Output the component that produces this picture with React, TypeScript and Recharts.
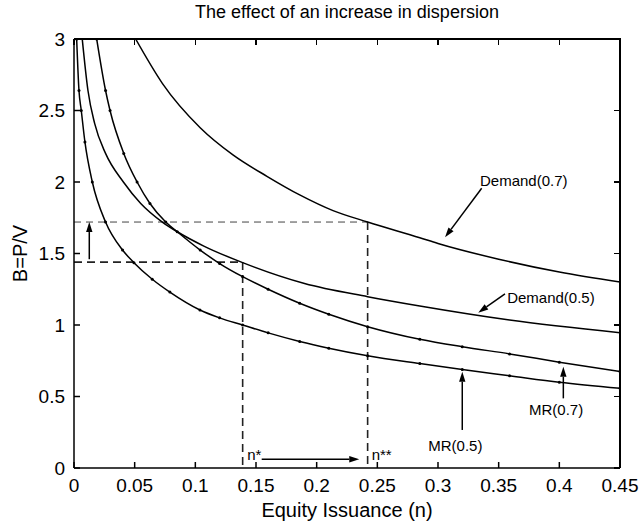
import { LineChart, Line, XAxis, YAxis, ReferenceLine, ReferenceDot, Label } from 'recharts';

// readings, n on x, B=P/V on y
const demand07 = [
  { n: 0.0508, b: 3.0 }, { n: 0.0728, b: 2.69 }, { n: 0.104, b: 2.38 }, { n: 0.131, b: 2.19 },
  { n: 0.159, b: 2.04 }, { n: 0.186, b: 1.91 }, { n: 0.2135, b: 1.8 }, { n: 0.242, b: 1.72 },
  { n: 0.285, b: 1.61 }, { n: 0.3, b: 1.57 }, { n: 0.35, b: 1.46 }, { n: 0.4, b: 1.37 }, { n: 0.45, b: 1.3 },
];
const demand05 = [
  { n: 0.0068, b: 3.0 }, { n: 0.0115, b: 2.64 }, { n: 0.017, b: 2.41 }, { n: 0.026, b: 2.2 },
  { n: 0.0407, b: 2.0 }, { n: 0.055, b: 1.85 }, { n: 0.0728, b: 1.72 }, { n: 0.0851, b: 1.652 },
  { n: 0.107, b: 1.552 }, { n: 0.139, b: 1.436 }, { n: 0.19, b: 1.29 }, { n: 0.242, b: 1.198 },
  { n: 0.285, b: 1.133 }, { n: 0.359, b: 1.035 }, { n: 0.45, b: 0.946 },
];
const mr07 = [
  { n: 0.0187, b: 3.0 }, { n: 0.026, b: 2.64 }, { n: 0.0297, b: 2.5 }, { n: 0.041, b: 2.2 },
  { n: 0.052, b: 2.0 }, { n: 0.0626, b: 1.85 }, { n: 0.0756, b: 1.72 }, { n: 0.0851, b: 1.652 },
  { n: 0.104, b: 1.524 }, { n: 0.12, b: 1.43 }, { n: 0.139, b: 1.338 }, { n: 0.16, b: 1.25 },
  { n: 0.186, b: 1.152 }, { n: 0.21, b: 1.075 }, { n: 0.242, b: 0.988 }, { n: 0.285, b: 0.9 },
  { n: 0.32, b: 0.848 }, { n: 0.359, b: 0.798 }, { n: 0.4, b: 0.74 }, { n: 0.45, b: 0.674 },
];
const mr05 = [
  { n: 0.0022, b: 3.0 }, { n: 0.0041, b: 2.64 }, { n: 0.006, b: 2.5 }, { n: 0.009, b: 2.28 },
  { n: 0.0151, b: 2.0 }, { n: 0.026, b: 1.72 }, { n: 0.04, b: 1.524 }, { n: 0.0494, b: 1.436 },
  { n: 0.0645, b: 1.32 }, { n: 0.079, b: 1.23 }, { n: 0.1038, b: 1.105 }, { n: 0.12, b: 1.05 },
  { n: 0.139, b: 1.0 }, { n: 0.16, b: 0.945 }, { n: 0.186, b: 0.885 }, { n: 0.21, b: 0.838 },
  { n: 0.242, b: 0.785 }, { n: 0.285, b: 0.73 }, { n: 0.32, b: 0.688 }, { n: 0.359, b: 0.645 },
  { n: 0.4, b: 0.6 }, { n: 0.45, b: 0.557 },
];

const xTicks = [0, 0.05, 0.1, 0.15, 0.2, 0.25, 0.3, 0.35, 0.4, 0.45];
const yTicks = [0, 0.5, 1, 1.5, 2, 2.5, 3];
const xMax = 0.45;
const yMax = 3;

// equilibrium guides: [n, B]
const nStar = 0.139;
const bStar = 1.44;
const nStar2 = 0.242;
const bStar2 = 1.72;

// arrows: from -> to (n, B)
const arrows = [
  { from: [0.0126, 1.46], to: [0.0126, 1.72] },
  { from: [0.1547, 0.061], to: [0.2351, 0.061] },
  { from: [0.336, 1.956], to: [0.3058, 1.613] },
  { from: [0.3552, 1.217], to: [0.3332, 1.086] },
  { from: [0.4033, 0.487], to: [0.4033, 0.708] },
  { from: [0.32, 0.266], to: [0.32, 0.673] },
];

const tags = [
  { n: 0.3346, b: 2.007, text: 'Demand(0.7)' },
  { n: 0.357, b: 1.192, text: 'Demand(0.5)' },
  { n: 0.375, b: 0.406, text: 'MR(0.7)' },
  { n: 0.292, b: 0.154, text: 'MR(0.5)' },
  { n: 0.1428, b: 0.095, text: 'n*' },
  { n: 0.2453, b: 0.095, text: 'n**' },
];

const font = '"Liberation Sans", Arial, sans-serif';

// plot box inside the 641x532 chart
const W = 641;
const H = 532;
const box = { left: 74, top: 39, right: 620, bottom: 468 };

const arrowShape = (p: any) => {
  const { x1, y1, x2, y2 } = p;
  const ang = Math.atan2(y2 - y1, x2 - x1);
  const len = 10;
  const w = 3.2;
  const bx = x2 - len * Math.cos(ang);
  const by = y2 - len * Math.sin(ang);
  const px = -Math.sin(ang) * w;
  const py = Math.cos(ang) * w;
  return (
    <g>
      <line x1={x1} y1={y1} x2={bx} y2={by} stroke="#000" strokeWidth={1.5} />
      <polygon points={`${x2},${y2} ${bx + px},${by + py} ${bx - px},${by - py}`} fill="#000" />
    </g>
  );
};

const yLabel = (p: any) => {
  const vb = p.viewBox;
  const cx = vb.x + 20;
  const cy = vb.y + vb.height / 2;
  return (
    <text x={cx} y={cy} transform={`rotate(-90 ${cx} ${cy})`} textAnchor="middle" dominantBaseline="central"
      fontSize={20} fontFamily={font} fill="#000">
      B=P/V
    </text>
  );
};

// top and right edges of the frame, with inward ticks, laid over the chart
function Frame() {
  const bw = box.right - box.left;
  const bh = box.bottom - box.top;
  return (
    <div style={{ position: 'absolute', left: 0, top: 0, width: W, height: H, pointerEvents: 'none' }}>
      <div style={{ position: 'absolute', left: box.left, top: box.top - 0.75, width: bw + 0.75, height: 1.5, background: '#000' }} />
      <div style={{ position: 'absolute', left: box.right - 0.75, top: box.top, width: 1.5, height: bh, background: '#000' }} />
      {xTicks.map((t) => (
        <div key={'tt' + t} style={{ position: 'absolute', left: box.left + (t / xMax) * bw - 0.75, top: box.top, width: 1.5, height: 6, background: '#000' }} />
      ))}
      {yTicks.map((t) => (
        <div key={'rt' + t} style={{ position: 'absolute', left: box.right - 6, top: box.top + (1 - t / yMax) * bh - 0.75, width: 6, height: 1.5, background: '#000' }} />
      ))}
    </div>
  );
}

export default function App() {
  const axisStroke = { stroke: '#000', strokeWidth: 1.5 };
  const tickStyle = { fill: '#000', fontSize: 19, fontFamily: font };
  return (
    <div style={{ position: 'absolute', left: 0, top: 0, width: W, height: H, background: '#fff', fontFamily: font }}>
      <div style={{ position: 'absolute', left: box.left, width: box.right - box.left, top: 2, textAlign: 'center', fontSize: 18, color: '#000' }}>
        The effect of an increase in dispersion
      </div>
      <LineChart width={W} height={H} data={[]}
        margin={{ top: box.top, right: W - box.right, bottom: H - box.bottom - 56, left: 0 }}>
        <XAxis dataKey="n" type="number" domain={[0, xMax]} ticks={xTicks} interval={0} allowDataOverflow
          height={56} tickSize={-6} tickMargin={17} axisLine={axisStroke} tickLine={axisStroke} tick={tickStyle}>
          <Label value="Equity Issuance (n)" position="insideBottom" offset={7} fill="#000" fontSize={20} fontFamily={font} />
        </XAxis>
        <YAxis type="number" domain={[0, yMax]} ticks={yTicks} interval={0} allowDataOverflow width={box.left}
          tickSize={-6} tickMargin={15} axisLine={axisStroke} tickLine={axisStroke} tick={tickStyle} label={{ content: yLabel }} />

        <ReferenceLine segment={[{ x: 0, y: bStar2 }, { x: nStar2, y: bStar2 }]} stroke="#444" strokeWidth={1} strokeDasharray="7 5" />
        <ReferenceLine segment={[{ x: nStar2, y: bStar2 }, { x: nStar2, y: 0 }]} stroke="#222" strokeWidth={1.6} strokeDasharray="8 5" />
        <ReferenceLine segment={[{ x: 0, y: bStar }, { x: nStar, y: bStar }]} stroke="#222" strokeWidth={1.6} strokeDasharray="8 5" />
        <ReferenceLine segment={[{ x: nStar, y: bStar }, { x: nStar, y: 0 }]} stroke="#222" strokeWidth={1.6} strokeDasharray="8 5" />

        <Line data={demand07} dataKey="b" type="monotone" stroke="#000" strokeWidth={1.5} dot={false} isAnimationActive={false} />
        <Line data={demand05} dataKey="b" type="monotone" stroke="#000" strokeWidth={1.5} dot={false} isAnimationActive={false} />
        <Line data={mr07} dataKey="b" type="monotone" stroke="#000" strokeWidth={1.5}
          dot={{ r: 1.5, fill: '#000', stroke: '#000', strokeWidth: 0 }} isAnimationActive={false} />
        <Line data={mr05} dataKey="b" type="monotone" stroke="#000" strokeWidth={1.5}
          dot={{ r: 1.5, fill: '#000', stroke: '#000', strokeWidth: 0 }} isAnimationActive={false} />

        {arrows.map((a, i) => (
          <ReferenceLine key={'a' + i} segment={[{ x: a.from[0], y: a.from[1] }, { x: a.to[0], y: a.to[1] }]} shape={arrowShape} />
        ))}
        {tags.map((t) => (
          <ReferenceDot key={t.text} x={t.n} y={t.b} r={0} fill="none" stroke="none"
            label={{ value: t.text, position: 'right', offset: 0, fill: '#000', fontSize: 15, fontFamily: font }} />
        ))}
      </LineChart>
      <Frame />
    </div>
  );
}
